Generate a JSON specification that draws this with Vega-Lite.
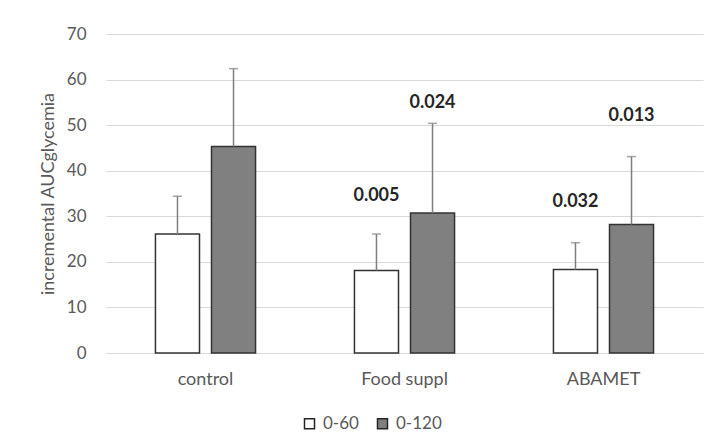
{
  "$schema": "https://vega.github.io/schema/vega-lite/v6.json",
  "width": 597,
  "height": 319,
  "autosize": {"type": "none"},
  "padding": {"left": 106, "top": 34, "right": 10, "bottom": 90},
  "background": "white",
  "config": {
    "font": "Lato",
    "view": {"stroke": null},
    "axis": {"labelFont": "Lato", "titleFont": "Lato", "labelColor": "#595959", "titleColor": "#595959"}
  },
  "data": {
    "values": [
      {"group": "control", "period": "0-60", "mean": 26.1, "upper": 34.4, "p": "", "label_y": null},
      {"group": "control", "period": "0-120", "mean": 45.3, "upper": 62.4, "p": "", "label_y": null},
      {"group": "Food suppl", "period": "0-60", "mean": 18.1, "upper": 26.1, "p": "0.005", "label_y": 34.4},
      {"group": "Food suppl", "period": "0-120", "mean": 30.7, "upper": 50.4, "p": "0.024", "label_y": 54.9},
      {"group": "ABAMET", "period": "0-60", "mean": 18.3, "upper": 24.2, "p": "0.032", "label_y": 33.1},
      {"group": "ABAMET", "period": "0-120", "mean": 28.2, "upper": 43.1, "p": "0.013", "label_y": 52.1}
    ]
  },
  "encoding": {
    "x": {
      "field": "group", "type": "nominal", "sort": ["control", "Food suppl", "ABAMET"],
      "scale": {"paddingInner": 0.497, "paddingOuter": 0.2485},
      "axis": {"title": null, "labelAngle": 0, "labelFontSize": 18, "labelPadding": 17, "ticks": false, "domainColor": "#d9d9d9", "domainWidth": 1}
    },
    "xOffset": {
      "field": "period", "type": "nominal", "sort": ["0-60", "0-120"],
      "scale": {"paddingInner": 0.214, "paddingOuter": 0}
    }
  },
  "layer": [
    {
      "mark": {"type": "bar", "stroke": "#333333", "strokeWidth": 1.5},
      "encoding": {
        "y": {
          "field": "mean", "type": "quantitative",
          "scale": {"domain": [0, 70]},
          "axis": {
            "title": "incremental AUCglycemia", "titleFontSize": 18, "titleFontWeight": "normal", "titlePadding": 9,
            "values": [0, 10, 20, 30, 40, 50, 60, 70], "labelFontSize": 17, "labelPadding": 20,
            "ticks": false, "domain": false, "gridColor": "#d9d9d9", "gridWidth": 1
          }
        },
        "fill": {
          "field": "period", "type": "nominal", "sort": ["0-60", "0-120"],
          "scale": {"domain": ["0-60", "0-120"], "range": ["#ffffff", "#808080"]},
          "legend": {
            "title": null, "orient": "none", "direction": "horizontal", "legendX": 195, "legendY": 381,
            "symbolType": "square", "symbolSize": 100, "symbolStrokeColor": "#262626", "symbolStrokeWidth": 1.5,
            "labelFontSize": 17, "labelColor": "#595959", "labelFont": "Lato", "labelOffset": 5, "columnPadding": 15
          }
        }
      }
    },
    {
      "mark": {"type": "rule", "color": "#7f7f7f", "strokeWidth": 1.5},
      "encoding": {
        "y": {"field": "mean", "type": "quantitative"},
        "y2": {"field": "upper"}
      }
    },
    {
      "mark": {"type": "tick", "color": "#7f7f7f", "thickness": 1.5, "size": 9, "orient": "horizontal"},
      "encoding": {
        "y": {"field": "upper", "type": "quantitative"}
      }
    },
    {
      "transform": [{"filter": "datum.p != ''"}],
      "mark": {"type": "text", "fontSize": 18, "fontWeight": "bold", "color": "#262626", "baseline": "middle", "align": "center"},
      "encoding": {
        "y": {"field": "label_y", "type": "quantitative"},
        "text": {"field": "p", "type": "nominal"}
      }
    }
  ]
}
